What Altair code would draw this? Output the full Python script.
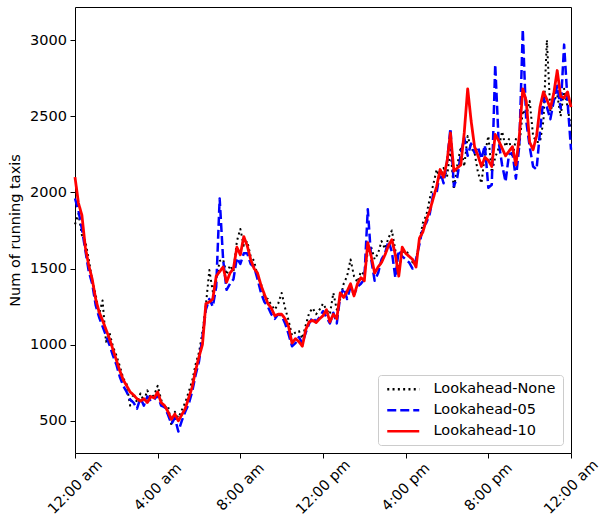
import json
import altair as alt
import pandas as pd

# Running taxis over one day, sampled every 10 minutes
minutes = list(range(0, 1441, 10))

lookahead_none = [
    1790, 1860, 1720, 1680, 1560, 1420, 1330, 1200, 1290, 1020, 1080, 990,
    930, 860, 780, 740, 600, 680, 620, 680, 630, 700, 650, 670,
    730, 640, 580, 600, 470, 560, 520, 570, 620, 690, 760, 870,
    950, 1080, 1260, 1490, 1350, 1420, 1550, 1560, 1460, 1520, 1480, 1680,
    1760, 1650, 1680, 1580, 1550, 1450, 1400, 1310, 1300, 1260, 1230, 1270,
    1340, 1240, 1160, 1060, 1080, 1090, 1040, 1130, 1210, 1240, 1200, 1230,
    1270, 1230, 1200, 1340, 1230, 1300, 1400, 1450, 1560, 1450, 1410, 1480,
    1460, 1610, 1640, 1560, 1600, 1680, 1630, 1700, 1750, 1620, 1480, 1600,
    1620, 1590, 1540, 1560, 1680, 1800, 1850, 1960, 2050, 2150, 2080, 2160,
    2100, 2280, 2020, 2180, 2300, 2170, 2370, 2290, 2260, 2130, 2060, 2250,
    2370, 2130, 2230, 2290, 2400, 2300, 2350, 2230, 2350, 2300, 2540, 2500,
    2600, 2370, 2330, 2330, 2470, 3000, 2530, 2600, 2640, 2500, 2680, 2560,
    2420,
]

lookahead_05 = [
    1960, 1880, 1760, 1620, 1480, 1400, 1260, 1180, 1120, 1060, 1000, 930,
    870, 790, 730, 690, 640, 620, 580, 650, 600, 660, 630, 640,
    670, 600, 590, 540, 480, 520, 430, 500, 560, 610, 690, 800,
    890, 1050, 1230, 1300, 1250, 1380, 1960, 1560, 1360, 1400, 1430, 1570,
    1530, 1600, 1600, 1530, 1510, 1430, 1340, 1280, 1250, 1200, 1170, 1200,
    1190, 1140, 1070, 990, 1010, 1050, 1010, 1080, 1140, 1180, 1150, 1180,
    1220, 1180, 1140, 1210, 1140, 1320, 1370, 1300, 1380, 1330, 1380, 1400,
    1430, 1890, 1560, 1420, 1470, 1560, 1600, 1680, 1610, 1440, 1620, 1580,
    1560, 1540, 1500, 1560, 1660, 1770, 1800, 1860, 1990, 2000, 2140, 2060,
    2200, 2420, 2040, 2100, 2250, 2360, 2240, 2320, 2260, 2300, 2220, 2310,
    2030, 2050, 2840, 2330, 2180, 2070, 2250, 2260, 2090, 2310, 3070, 2470,
    2300, 2170, 2150, 2400, 2620, 2560, 2480, 2600, 2700, 2550, 2970, 2600,
    2280,
]

lookahead_10 = [
    2100, 1930, 1850, 1640, 1520, 1430, 1300, 1215, 1160, 1100, 1040, 970,
    900, 830, 770, 730, 690, 670, 645, 630, 645, 620, 660, 650,
    690, 620, 600, 560, 510, 545, 500, 540, 580, 650, 720, 830,
    920, 1000, 1270, 1280, 1300, 1450, 1480, 1510, 1410, 1470, 1500, 1640,
    1590, 1710, 1650, 1560, 1500, 1470, 1390, 1330, 1270, 1240, 1190, 1200,
    1200, 1170, 1120, 1010, 1040, 1020, 990, 1100, 1150, 1160, 1145, 1170,
    1190, 1230, 1150, 1200, 1170, 1340, 1310, 1350, 1400, 1320, 1400, 1440,
    1420, 1670, 1580, 1470, 1510, 1540, 1590, 1650, 1690, 1590, 1450, 1640,
    1600, 1580, 1560, 1510, 1700, 1740, 1820, 1880, 1960, 2040, 2150, 2100,
    2200, 2390, 2140, 2160, 2180, 2390, 2680, 2470, 2300, 2240, 2170, 2230,
    2210, 2170, 2380, 2340, 2290, 2240, 2270, 2300, 2180, 2370, 2680, 2600,
    2330, 2280, 2370, 2560, 2660, 2610, 2550, 2650, 2800, 2630, 2620, 2660,
    2560,
]

series_names = ["Lookahead-None", "Lookahead-05", "Lookahead-10"]
series_colors = ["#000000", "#0000ff", "#ff0000"]
series_dashes = [[2, 3.3], [9, 4], [1, 0]]
series_widths = [2, 2.5, 2.8]

tick_hours = [0, 4, 8, 12, 16, 20, 24]
tick_labels = ["12:00 am", "4:00 am", "8:00 am", "12:00 pm", "4:00 pm", "8:00 pm", "12:00 am"]
y_ticks = [500, 1000, 1500, 2000, 2500, 3000]

frames = []
for name, values in zip(series_names, [lookahead_none, lookahead_05, lookahead_10]):
    frames.append(pd.DataFrame({
        "hour": [m / 60 for m in minutes],
        "taxis": values,
        "series": name,
    }))
df = pd.concat(frames, ignore_index=True)

label_expr = json.dumps(tick_labels) + "[datum.value / 4]"

x_enc = alt.X(
    "hour:Q",
    scale=alt.Scale(domain=[0, 24], nice=False, zero=False),
    axis=alt.Axis(
        values=tick_hours, labelExpr=label_expr, title=None,
        labelAngle=315, labelAlign="center", labelBaseline="middle",
        labelPadding=29, labelFlush=False, labelOverlap=False,
    ),
)
y_enc = alt.Y(
    "taxis:Q",
    scale=alt.Scale(domain=[289, 3217], nice=False, zero=False),
    axis=alt.Axis(
        values=y_ticks, format="d", title="Num of running taxis", titlePadding=7,
        labelPadding=3.5, labelFlush=False, labelOverlap=False,
    ),
)
color_enc = alt.Color(
    "series:N",
    scale=alt.Scale(domain=series_names, range=series_colors),
    legend=alt.Legend(title=None),
)
dash_enc = alt.StrokeDash(
    "series:N",
    scale=alt.Scale(domain=series_names, range=series_dashes),
    legend=alt.Legend(title=None),
)

layers = []
for name, width in zip(series_names, series_widths):
    layers.append(
        alt.Chart(df[df["series"] == name])
        .mark_line(strokeWidth=width, strokeJoin="round")
        .encode(x=x_enc, y=y_enc, color=color_enc, strokeDash=dash_enc)
    )

# Legend key: a short horizontal stroke, drawn 32px long from a 10px symbol slot
legend_key = "M-1,0H5.4"

chart = (
    alt.layer(*layers)
    .properties(
        width=496,
        height=446,
        autosize=alt.AutoSizeParams(type="none"),
        padding={"left": 75, "top": 7, "right": 30, "bottom": 65},
        background="white",
    )
    .configure_view(stroke="black", strokeWidth=1)
    .configure_axis(
        grid=False, domain=False, tickColor="black", tickSize=5, tickWidth=1,
        labelFont="DejaVu Sans", labelFontSize=14.5, labelColor="black",
        titleFont="DejaVu Sans", titleFontSize=14.5, titleFontWeight="normal",
        titleColor="black",
    )
    .configure_legend(
        orient="bottom-right", offset=8, padding=7, rowPadding=6,
        strokeColor="#cccccc", fillColor="rgba(255,255,255,0.8)", cornerRadius=3,
        symbolType=legend_key, symbolSize=100, symbolStrokeWidth=2.5,
        labelFont="DejaVu Sans", labelFontSize=14.5, labelColor="black",
        labelOffset=34,
    )
)

chart.save("out.html", embed_options={"renderer": "svg", "actions": False})
